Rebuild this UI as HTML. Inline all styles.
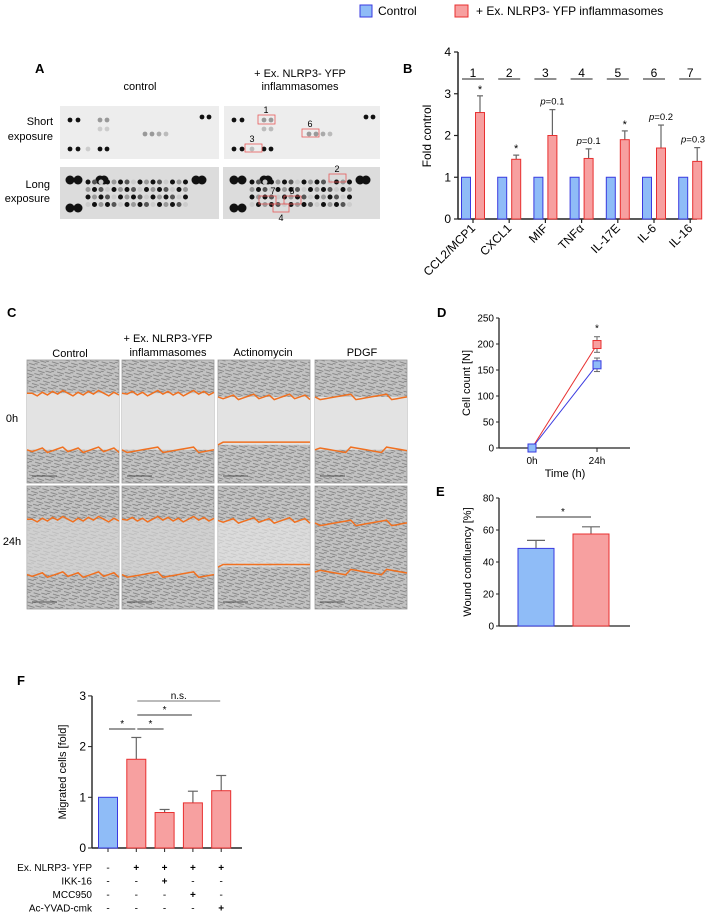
<!DOCTYPE html>
<html><head><meta charset="utf-8"><style>
html,body{margin:0;padding:0;background:#fff;}
svg{display:block;font-family:"Liberation Sans",Arial,sans-serif;}
</style></head><body>
<svg id="fig" width="708" height="914" viewBox="0 0 708 914" xmlns="http://www.w3.org/2000/svg">
<defs>
<pattern id="cells" width="9" height="7" patternUnits="userSpaceOnUse" patternTransform="rotate(25)">
<rect width="9" height="7" fill="#c2c2c2"/>
<path d="M0 2 L6 1 M2 5 L9 4 M5 7 L8 6" stroke="#777" stroke-width="0.8"/>
</pattern>
</defs>

<!-- Legend -->
<g>
<rect x="360" y="5" width="12" height="12" fill="#8fbcf7" stroke="#3a3ae0"/>
<text x="378" y="15" font-size="12">Control</text>
<rect x="455" y="5" width="13" height="12" fill="#f7a0a0" stroke="#e83030"/>
<text x="476" y="15" font-size="12">+ Ex. NLRP3- YFP inflammasomes</text>
</g>

<!-- Panel labels -->
<g font-weight="bold" font-size="13">
<text x="35" y="73">A</text>
<text x="403" y="73">B</text>
<text x="7" y="317">C</text>
<text x="437" y="317">D</text>
<text x="436" y="496">E</text>
<text x="17" y="685">F</text>
</g>

<!-- Panel A -->
<g id="panelA" font-size="11">
<text x="140" y="90" text-anchor="middle">control</text>
<text x="300" y="77" text-anchor="middle">+ Ex. NLRP3- YFP</text>
<text x="300" y="90" text-anchor="middle">inflammasomes</text>
<text x="53" y="125" text-anchor="end">Short</text>
<text x="53" y="140" text-anchor="end">exposure</text>
<text x="50" y="188" text-anchor="end">Long</text>
<text x="50" y="202" text-anchor="end">exposure</text>
<rect x="60" y="106" width="159" height="53" fill="#ededed"/>
<rect x="224" y="106" width="156" height="53" fill="#ededed"/>
<rect x="60" y="167" width="159" height="52" fill="#dcdcdc"/>
<rect x="223" y="167" width="157" height="52" fill="#dcdcdc"/>
<g id="dots"></g>
<g fill="none" stroke="#e85a5a" stroke-width="0.8">
<rect x="258" y="115" width="17" height="9"/><rect x="302" y="129" width="17" height="8"/><rect x="245" y="144" width="17" height="8"/>
<rect x="329" y="174" width="17" height="8"/><rect x="284" y="196" width="17" height="8"/><rect x="259" y="196" width="17" height="8"/><rect x="273" y="204" width="16" height="8"/>
</g>
<g font-size="9" text-anchor="middle">
<text x="266" y="113">1</text><text x="310" y="127">6</text><text x="252" y="142">3</text>
<text x="337" y="172">2</text><text x="292" y="194">5</text><text x="273" y="194">7</text><text x="281" y="221">4</text>
</g>
</g>

<!-- Panel B -->
<g id="panelB"></g>

<!-- Panel C -->
<g id="panelC" font-size="11">
<text x="70" y="357" text-anchor="middle">Control</text>
<text x="168" y="342" text-anchor="middle">+ Ex. NLRP3-YFP</text>
<text x="168" y="356" text-anchor="middle">inflammasomes</text>
<text x="263" y="356" text-anchor="middle">Actinomycin</text>
<text x="362" y="356" text-anchor="middle">PDGF</text>
<text x="12" y="422" text-anchor="middle">0h</text>
<text x="12" y="545" text-anchor="middle">24h</text>
</g>

<g id="panelD"></g>
<g id="panelE"></g>
<g id="panelF"></g>
</svg>
<script>
const NS="http://www.w3.org/2000/svg";
function mk(parent,tag,attrs,txt){const e=document.createElementNS(NS,tag);for(const k in attrs)e.setAttribute(k,attrs[k]);if(txt!==undefined)e.textContent=txt;parent.appendChild(e);return e;}
const BLUE_F="#8fbcf7",BLUE_S="#3a3ae0",RED_F="#f7a0a0",RED_S="#e83030",ERR="#666";

// ---------- Panel B data ----------
const bCategories=["CCL2/MCP1","CXCL1","MIF","TNF\u03b1","IL-17E","IL-6","IL-16"];
const bControl=[1,1,1,1,1,1,1];
const bNlrp3=[2.55,1.43,2.0,1.45,1.9,1.7,1.38];
const bNlrp3Err=[0.4,0.1,0.62,0.23,0.21,0.55,0.33];
const bStats=["*","*","p=0.1","p=0.1","*","p=0.2","p=0.3"];
const bTicks=[0,1,2,3,4];

// ---------- Panel D data ----------
const dTimes=["0h","24h"];
const dControl=[0,160];
const dControlErr=[0,13];
const dNlrp3=[0,199];
const dNlrp3Err=[0,15];
const dTicks=[0,50,100,150,200,250];

// ---------- Panel E data ----------
const eGroups=["Control","NLRP3"];
const eValues=[48.5,57.5];
const eErr=[5,4.5];
const eTicks=[0,20,40,60,80];

// ---------- Panel F data ----------
const fValues=[1,1.75,0.7,0.89,1.13];
const fErr=[0,0.43,0.06,0.23,0.3];
const fTicks=[0,1,2,3];
const fRowLabels=["Ex. NLRP3- YFP","IKK-16","MCC950","Ac-YVAD-cmk"];
const fRows=[["-","+","+","+","+"],["-","-","+","-","-"],["-","-","-","+","-"],["-","-","-","-","+"]];

// ===== Panel B =====
(function(){
const g=document.getElementById('panelB');
const yB=v=>219-v*41.75;
const xB=i=>466+i*36.2;
mk(g,'line',{x1:458,y1:yB(0),x2:697,y2:yB(0),stroke:'#222','stroke-width':1.5});
mk(g,'line',{x1:458,y1:yB(4),x2:458,y2:yB(0),stroke:'#222','stroke-width':1.5});
bTicks.forEach(t=>{mk(g,'line',{x1:454,y1:yB(t),x2:458,y2:yB(t),stroke:'#222','stroke-width':1.2});
const tl=mk(g,'text',{x:451,y:yB(t)+4,'font-size':12,'text-anchor':'end'},String(t));
});
const yt=mk(g,'text',{x:0,y:0,'font-size':12,'text-anchor':'middle',transform:'translate(431,136) rotate(-90)'},'Fold control');

bCategories.forEach((c,i)=>{
 const xb=xB(i),xr=xb+14;
 const b=mk(g,'rect',{x:xb-4.5,y:yB(bControl[i]),width:9,height:yB(0)-yB(bControl[i]),fill:BLUE_F,stroke:BLUE_S,'stroke-width':1});
 
 const top=yB(bNlrp3[i]+bNlrp3Err[i]);
 mk(g,'line',{x1:xr,y1:yB(bNlrp3[i]),x2:xr,y2:top,stroke:ERR,'stroke-width':1.2});
 mk(g,'line',{x1:xr-3,y1:top,x2:xr+3,y2:top,stroke:ERR,'stroke-width':1.2});
 const r=mk(g,'rect',{x:xr-4.5,y:yB(bNlrp3[i]),width:9,height:yB(0)-yB(bNlrp3[i]),fill:RED_F,stroke:RED_S,'stroke-width':1});
 
 const cx=xb+7;
 mk(g,'line',{x1:cx,y1:yB(0),x2:cx,y2:yB(0)+4,stroke:'#222','stroke-width':1.2});
 const lab=mk(g,'text',{x:0,y:0,'font-size':12,'text-anchor':'end',transform:`translate(${cx+3},${yB(0)+10}) rotate(-45)`},c);
 
 mk(g,'line',{x1:cx-11,y1:79,x2:cx+11,y2:79,stroke:'#222','stroke-width':1});
 mk(g,'text',{x:cx,y:77,'font-size':12,'text-anchor':'middle'},String(i+1));
 const s=bStats[i];
 if(s==='*'){mk(g,'text',{x:xr,y:top-3,'font-size':11,'text-anchor':'middle'},'*');}
 else{const t=mk(g,'text',{x:Math.min(xr,693),y:top-5,'font-size':9.5,'text-anchor':'middle'});
  mk(t,'tspan',{'font-style':'italic'},'p');mk(t,'tspan',{},s.slice(1));}
});
})();

// ===== Panel A dots =====
(function(){
const g=document.getElementById('dots');
function d(x,y,r,c){mk(g,'circle',{cx:x,cy:y,r:r,fill:c});}
const sh=[[70,120,'#111'],[78,120,'#111'],[100,120,'#999'],[107,120,'#999'],[100,129,'#ccc'],[107,129,'#ccc'],[145,134,'#999'],[152,134,'#999'],[159,134,'#aaa'],[166,134,'#bbb'],[70,149,'#111'],[78,149,'#111'],[88,149,'#ccc'],[100,149,'#111'],[107,149,'#111'],[202,117,'#111'],[209,117,'#111']];
sh.forEach(p=>{d(p[0],p[1],2.4,p[2]);d(p[0]+164,p[1],2.4,p[2]==='#ccc'?'#bbb':p[2]);});
const lg=[[70,180,4.5],[78,180,4.5],[70,208,4.5],[78,208,4.5],[100,180,4.5],[104,180,4.5]];
lg.forEach(p=>{d(p[0],p[1],p[2],'#111');d(p[0]+164,p[1],p[2],'#111');});
for(let c=0;c<16;c++)for(let r=0;r<4;r++){
 const x=88+c*6.5,y=182+r*7.5,k=(c*7+r*3)%5;
 const col=k<2?'#111':k<3?'#555':k<4?'#999':'#ccc';
 d(x,y,2.5,col);d(x+164,y,2.5,col);}
[[196,180],[202,180],[360,180],[366,180]].forEach(p=>d(p[0],p[1],4.5,'#111'));
})();

// ===== Panel C images =====
(function(){
const g=document.getElementById('panelC');
const xs=[27,122,218,315],ys=[360,486],w=92,h=123;
const edgesTop=[[0.27,0.27,0.30,0.30],[0.27,0.27,0.28,0.30]];
const edgesBot=[[0.73,0.73,0.69,0.73],[0.72,0.72,0.66,0.70]];
ys.forEach((y,ri)=>xs.forEach((x,ci)=>{
 const im=mk(g,'rect',{x:x,y:y,width:w,height:h,fill:'url(#cells)',stroke:'#999','stroke-width':0.8});
 
 const t=y+edgesTop[ri][ci]*h,b=y+edgesBot[ri][ci]*h;
 const gapFill=ri===0?'#e3e3e3':(ci===3?'none':(ci===2?'#e6e6e6':'#d6d6d6'));
 if(gapFill!=='none')mk(g,'rect',{x:x,y:t,width:w,height:b-t,fill:gapFill,opacity:ri===0?1:0.7});
 function wave(yy,seed){let d=`M${x} ${yy}`;for(let k=1;k<=18;k++){const dy=((k*seed)%7-3)*0.9;d+=` L${x+k*w/18} ${yy+dy}`;}return d;}
 mk(g,'path',{d:wave(t,3+ci),fill:'none',stroke:'#f07020','stroke-width':1.5});
 mk(g,'path',{d:wave(b,5+ci),fill:'none',stroke:'#f07020','stroke-width':1.5});
 mk(g,'line',{x1:x+5,y1:y+h-7,x2:x+30,y2:y+h-7,stroke:'#333','stroke-width':0.7});
}));
})();

// ===== Panel D =====
(function(){
const g=document.getElementById('panelD');
const yD=v=>448-v*0.52;
const xD=i=>532+i*65;
mk(g,'line',{x1:499,y1:318,x2:499,y2:448,stroke:'#222','stroke-width':1.3});
mk(g,'line',{x1:499,y1:448,x2:630,y2:448,stroke:'#222','stroke-width':1.3});
dTicks.forEach(t=>{mk(g,'line',{x1:496,y1:yD(t),x2:499,y2:yD(t),stroke:'#222'});
 mk(g,'text',{x:494,y:yD(t)+3.5,'font-size':10,'text-anchor':'end'},String(t));});
dTimes.forEach((t,i)=>{mk(g,'line',{x1:xD(i),y1:448,x2:xD(i),y2:452,stroke:'#222'});
 mk(g,'text',{x:xD(i),y:464,'font-size':10,'text-anchor':'middle'},t);});
mk(g,'text',{x:565,y:477,'font-size':11,'text-anchor':'middle'},'Time (h)');
mk(g,'text',{x:0,y:0,'font-size':11,'text-anchor':'middle',transform:'translate(470,383) rotate(-90)'},'Cell count [N]');
function series(vals,errs,fill,stroke,nm){
 const pts=vals.map((v,i)=>xD(i)+','+yD(v)).join(' ');
 mk(g,'polyline',{points:pts,fill:'none',stroke:stroke,'stroke-width':1});
 vals.forEach((v,i)=>{if(errs[i]){mk(g,'line',{x1:xD(i),y1:yD(v-errs[i]),x2:xD(i),y2:yD(v+errs[i]),stroke:ERR});
  mk(g,'line',{x1:xD(i)-3,y1:yD(v+errs[i]),x2:xD(i)+3,y2:yD(v+errs[i]),stroke:ERR});mk(g,'line',{x1:xD(i)-3,y1:yD(v-errs[i]),x2:xD(i)+3,y2:yD(v-errs[i]),stroke:ERR});}
  const m=mk(g,'rect',{x:xD(i)-4,y:yD(v)-4,width:8,height:8,fill:fill,stroke:stroke});
  });
}
series(dNlrp3,dNlrp3Err,RED_F,RED_S,'point-nlrp3');
series(dControl,dControlErr,BLUE_F,BLUE_S,'point-control');
mk(g,'text',{x:xD(1),y:yD(dNlrp3[1]+dNlrp3Err[1])-5,'font-size':10,'text-anchor':'middle'},'*');
})();

// ===== Panel E =====
(function(){
const g=document.getElementById('panelE');
const yE=v=>626-v*1.6;
const xE=i=>536+i*55;
mk(g,'line',{x1:499,y1:498,x2:499,y2:626,stroke:'#222','stroke-width':1.3});
mk(g,'line',{x1:499,y1:626,x2:630,y2:626,stroke:'#222','stroke-width':1.3});
eTicks.forEach(t=>{mk(g,'line',{x1:496,y1:yE(t),x2:499,y2:yE(t),stroke:'#222'});
 mk(g,'text',{x:494,y:yE(t)+3.5,'font-size':10,'text-anchor':'end'},String(t));});
mk(g,'text',{x:0,y:0,'font-size':11,'text-anchor':'middle',transform:'translate(471,562) rotate(-90)'},'Wound confluency [%]');
eValues.forEach((v,i)=>{const x=xE(i),top=yE(v+eErr[i]);
 mk(g,'line',{x1:x,y1:yE(v),x2:x,y2:top,stroke:ERR,'stroke-width':1.2});
 mk(g,'line',{x1:x-9,y1:top,x2:x+9,y2:top,stroke:ERR,'stroke-width':1.2});
 const r=mk(g,'rect',{x:x-18,y:yE(v),width:36,height:yE(0)-yE(v),fill:i?RED_F:BLUE_F,stroke:i?RED_S:BLUE_S,'stroke-width':1});
 });
mk(g,'line',{x1:536,y1:517,x2:591,y2:517,stroke:'#333'});
mk(g,'text',{x:563,y:515,'font-size':10,'text-anchor':'middle'},'*');
})();

// ===== Panel F =====
(function(){
const g=document.getElementById('panelF');
const yF=v=>848-v*50.7;
const xF=i=>108+i*28.3;
mk(g,'line',{x1:92,y1:yF(3),x2:92,y2:yF(0),stroke:'#222','stroke-width':1.4});
mk(g,'line',{x1:92,y1:yF(0),x2:242,y2:yF(0),stroke:'#222','stroke-width':1.4});
fTicks.forEach(t=>{mk(g,'line',{x1:88,y1:yF(t),x2:92,y2:yF(t),stroke:'#222'});
 mk(g,'text',{x:86,y:yF(t)+4,'font-size':12,'text-anchor':'end'},String(t));});
mk(g,'text',{x:0,y:0,'font-size':11,'text-anchor':'middle',transform:'translate(66,772) rotate(-90)'},'Migrated cells [fold]');
fValues.forEach((v,i)=>{const x=xF(i);
 mk(g,'line',{x1:x,y1:yF(0),x2:x,y2:yF(0)+4,stroke:'#222'});
 if(fErr[i]){const top=yF(v+fErr[i]);mk(g,'line',{x1:x,y1:yF(v),x2:x,y2:top,stroke:ERR,'stroke-width':1.2});
  mk(g,'line',{x1:x-5,y1:top,x2:x+5,y2:top,stroke:ERR,'stroke-width':1.2});}
 const r=mk(g,'rect',{x:x-9.5,y:yF(v),width:19,height:yF(0)-yF(v),fill:i?RED_F:BLUE_F,stroke:i?RED_S:BLUE_S,'stroke-width':1});
 });
[[0,1,729,'*','#333'],[1,2,729,'*','#333'],[1,3,715,'*','#333'],[1,4,701,'n.s.','#777']].forEach(s=>{
 mk(g,'line',{x1:xF(s[0])+1,y1:s[2],x2:xF(s[1])-1,y2:s[2],stroke:s[4]});
 mk(g,'text',{x:(xF(s[0])+xF(s[1]))/2,y:s[2]-2,'font-size':10,'text-anchor':'middle'},s[3]);});
fRowLabels.forEach((l,r)=>{const y=871+r*13.5;
 mk(g,'text',{x:92,y:y,'font-size':10,'text-anchor':'end'},l);
 fRows[r].forEach((s,i)=>mk(g,'text',{x:xF(i),y:y,'font-size':10,'text-anchor':'middle','font-weight':s==='+'?'bold':'normal'},s));});
})();
</script>
</body></html>
